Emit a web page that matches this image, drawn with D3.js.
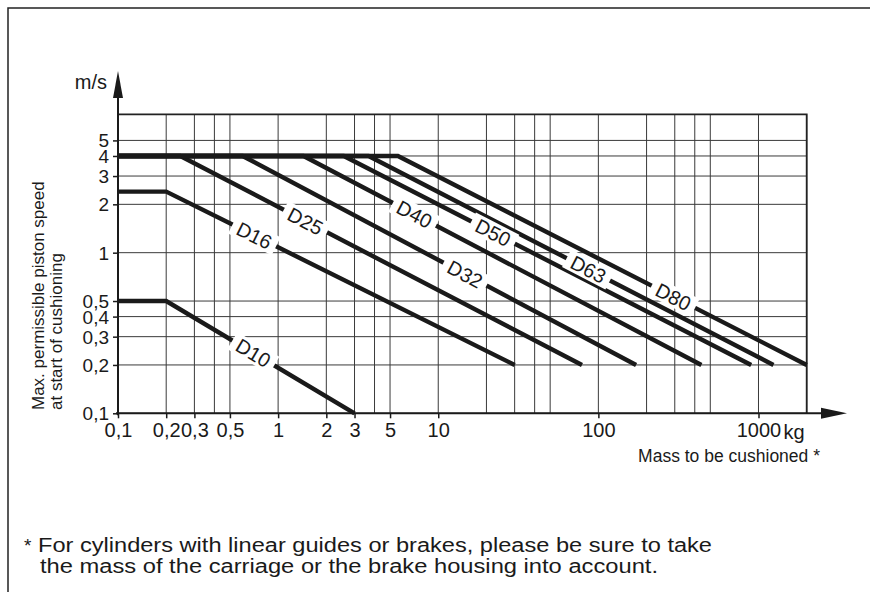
<!DOCTYPE html>
<html>
<head>
<meta charset="utf-8">
<script src="https://cdn.jsdelivr.net/npm/d3@7"></script>
<style>
  body { margin: 0; background: #fff; }
  text { font-family: "Liberation Sans", Arial, sans-serif; fill: #1a1a1a; }
</style>
</head>
<body>
<svg id="chart" width="870" height="592"></svg>
<script>
// Grid values: mass in kg, speed in m/s
const xGrid = [0.1, 0.2, 0.3, 0.4, 0.5, 1, 2, 3, 4, 5, 10, 20, 30, 40, 50, 100, 200, 300, 400, 500, 1000, 2000];
const yGrid = [0.1, 0.2, 0.3, 0.4, 0.5, 1, 2, 3, 4, 5];
const xTicks = [0.1, 0.2, 0.3, 0.5, 1, 2, 3, 5, 10, 100, 1000];
const xTickLabels = ["0,1", "0,2", "0,3", "0,5", "1", "2", "3", "5", "10", "100", "1000"];
const yTickLabels = ["0,1", "0,2", "0,3", "0,4", "0,5", "1", "2", "3", "4", "5"];

// Cylinder curves: [mass, speed]
const names = ["D10", "D16", "D25", "D32", "D40", "D50", "D63", "D80"];
const d10 = [[0.1, 0.5], [0.2, 0.5], [3, 0.1]];
const d16 = [[0.1, 2.4], [0.2, 2.4], [30, 0.2]];
const d25 = [[0.1, 4], [0.245, 4], [79, 0.2]];
const d32 = [[0.1, 4], [0.6, 4], [172, 0.2]];
const d40 = [[0.1, 4], [1.44, 4], [440, 0.2]];
const d50 = [[0.1, 4], [2.57, 4], [900, 0.2]];
const d63 = [[0.1, 4], [3.67, 4], [1240, 0.2]];
const d80 = [[0.1, 4], [5.6, 4], [2000, 0.2]];
const curves = [d10, d16, d25, d32, d40, d50, d63, d80];
// Mass where each label sits on its curve
const labelAt = [0.7, 0.71, 1.48, 14.7, 7.1, 22, 86.5, 294];

const svg = d3.select("#chart");

const x = d3.scaleLog().domain([0.1, 2000]).range([118, 806.7]);
const y = d3.scaleLog().domain([0.1, 7.27]).range([413.3, 114.3]);

// Outer frame (open at right and bottom)
svg.append("path")
    .attr("d", "M8,600V8H880")
    .attr("fill", "none")
    .attr("stroke", "#222")
    .attr("stroke-width", 1.5);

// Grid
const grid = svg.append("g").attr("stroke", "#3a3a3a").attr("stroke-width", 1);
grid.selectAll(".vx").data(xGrid).join("line")
    .attr("x1", d => x(d)).attr("x2", d => x(d))
    .attr("y1", y(0.1)).attr("y2", y(7.27));
grid.selectAll(".hy").data(yGrid).join("line")
    .attr("x1", x(0.1)).attr("x2", x(2000))
    .attr("y1", d => y(d)).attr("y2", d => y(d));

// Top and right border of the grid
svg.append("path")
    .attr("d", `M${x(0.1)},${y(7.27)}H${x(2000)}V${y(0.1)}`)
    .attr("fill", "none")
    .attr("stroke", "#222")
    .attr("stroke-width", 1.8);

// Axes ticks and labels
const yAxis = svg.append("g")
    .attr("transform", `translate(${x(0.1)},0)`)
    .call(d3.axisLeft(y).tickValues(yGrid).tickFormat((d, i) => yTickLabels[i]).tickSize(5).tickPadding(4));
const xAxis = svg.append("g")
    .attr("transform", `translate(0,${y(0.1)})`)
    .call(d3.axisBottom(x).tickValues(xTicks).tickFormat((d, i) => xTickLabels[i]).tickSize(5).tickPadding(5));
[yAxis, xAxis].forEach(a => {
    a.select(".domain").remove();
    a.selectAll(".tick line").attr("stroke", "#1a1a1a").attr("stroke-width", 1.5);
    a.selectAll(".tick text").style("font-family", "'Liberation Sans', Arial, sans-serif")
        .style("font-size", "20px").attr("fill", "#1a1a1a");
});
yAxis.selectAll(".tick text").style("font-size", "19px").attr("dy", "0.34em");

// Axis lines with arrows
svg.append("line")
    .attr("x1", x(0.1)).attr("x2", x(0.1))
    .attr("y1", y(0.1) + 2).attr("y2", 92)
    .attr("stroke", "#1a1a1a").attr("stroke-width", 2);
svg.append("path")
    .attr("d", `M${x(0.1)},71L${x(0.1) + 5},98L${x(0.1) - 5},98Z`)
    .attr("fill", "#1a1a1a");
svg.append("line")
    .attr("x1", x(0.1) - 2).attr("x2", 826)
    .attr("y1", y(0.1)).attr("y2", y(0.1))
    .attr("stroke", "#1a1a1a").attr("stroke-width", 2);
svg.append("path")
    .attr("d", `M847,${y(0.1)}L821,${y(0.1) - 5.5}L821,${y(0.1) + 5.5}Z`)
    .attr("fill", "#1a1a1a");

// Unit labels
svg.append("text").attr("x", 107).attr("y", 89).attr("text-anchor", "end")
    .style("font-size", "20px").text("m/s");
svg.append("text").attr("x", x(1000) + 25).attr("y", y(0.1) + 26)
    .style("font-size", "20px").text("kg");
svg.append("text").attr("x", 820).attr("y", 462).attr("text-anchor", "end")
    .style("font-size", "17.5px").attr("fill", "#333").text("Mass to be cushioned *");

// Y axis title
const yTitle = svg.append("text")
    .attr("transform", "translate(44,410) rotate(-90)")
    .style("font-size", "17px").attr("fill", "#333");
yTitle.append("tspan").attr("x", 0).attr("y", 0).text("Max. permissible piston speed");
yTitle.append("tspan").attr("x", 0).attr("y", 18).text("at start of cushioning");

// Curves
const line = d3.line().x(d => x(d[0])).y(d => y(d[1]));
svg.append("g").selectAll("path").data(curves).join("path")
    .attr("d", line)
    .attr("fill", "none")
    .attr("stroke", "#1a1a1a")
    .attr("stroke-width", 4.4);

// Curve labels, breaking the lines
curves.forEach((c, i) => {
    const p = c[1], q = c[2];
    const m = labelAt[i];
    const t = Math.log(m / p[0]) / Math.log(q[0] / p[0]);
    const v = Math.exp(Math.log(p[1]) + t * (Math.log(q[1]) - Math.log(p[1])));
    const ang = Math.atan2(y(q[1]) - y(p[1]), x(q[0]) - x(p[0])) * 180 / Math.PI;
    const g = svg.append("g").attr("transform", `translate(${x(m)},${y(v)}) rotate(${ang})`);
    const txt = g.append("text")
        .attr("text-anchor", "middle")
        .attr("dy", "0.36em")
        .style("font-size", "20px")
        .text(names[i]);
    const w = txt.node().getComputedTextLength();
    g.insert("rect", "text")
        .attr("x", -w / 2 - 6).attr("y", -10)
        .attr("width", w + 12).attr("height", 20)
        .attr("fill", "#fff");
});

// Footnote
svg.append("text").attr("x", 24).attr("y", 552)
    .style("font-size", "19px").text("*");
svg.append("text").attr("x", 38).attr("y", 552)
    .style("font-family", "'Liberation Sans Narrow', 'Liberation Sans', sans-serif")
    .style("font-size", "20px")
    .attr("textLength", 674).attr("lengthAdjust", "spacingAndGlyphs")
    .text("For cylinders with linear guides or brakes, please be sure to take");
svg.append("text").attr("x", 40).attr("y", 573)
    .style("font-family", "'Liberation Sans Narrow', 'Liberation Sans', sans-serif")
    .style("font-size", "20px")
    .attr("textLength", 618).attr("lengthAdjust", "spacingAndGlyphs")
    .text("the mass of the carriage or the brake housing into account.");
</script>
</body>
</html>
